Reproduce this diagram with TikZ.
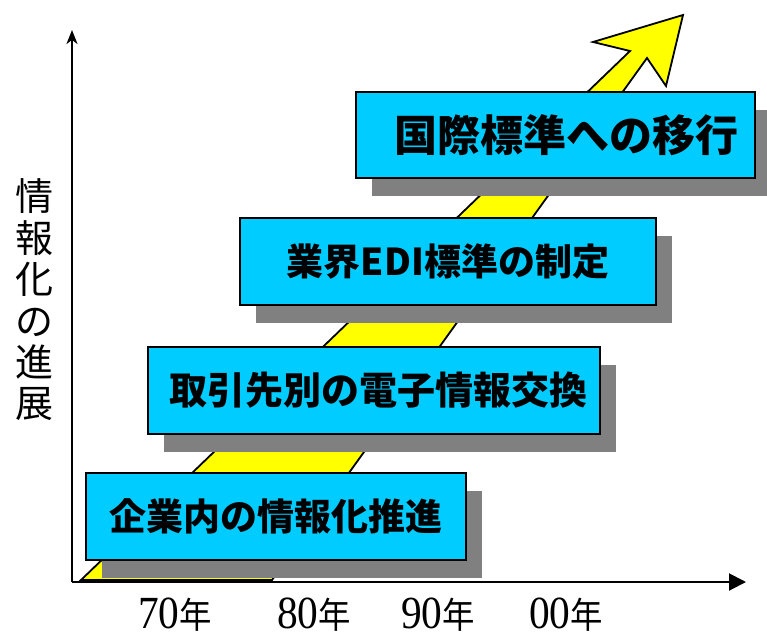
\documentclass[tikz,border=0pt]{standalone}
\usepackage{fontspec}
\setmainfont{Liberation Serif}
\newfontfamily\jp{Noto Sans CJK JP}
\usetikzlibrary{arrows.meta,shadows}
\definecolor{boxcyan}{HTML}{00CCFF}
\definecolor{shadowgray}{HTML}{808080}
\definecolor{arrowyellow}{HTML}{FFFF00}
\begin{document}
\begin{tikzpicture}[x=1pt,y=-1pt,
  stagebox/.style={draw=black, line width=2.2pt, fill=boxcyan, inner sep=0pt,
    general shadow={fill=shadowgray, shadow xshift=16pt, shadow yshift=-18pt}},
  axisline/.style={line width=2pt, black},
  yearlabel/.style={anchor=base, inner sep=0pt},
  bigarrow/.style={fill=arrowyellow, draw=black, line width=1.8pt, line join=miter}]
\useasboundingbox (0,0) rectangle (767,638);
% progress arrow
\draw[bigarrow] (81,580) -- (272,580) -- (647,58) -- (666,86) -- (683,15)
  -- (593,42) -- (630,51) -- cycle;
% axes
\coordinate (O) at (72,582);
\coordinate (ytip) at (72,30);
\coordinate (xtip) at (746,582);
\draw[axisline, -{Stealth[length=14pt,width=11pt,inset=4pt]}] (O) -- (ytip);
\draw[axisline, -{Triangle[length=17pt,width=17pt]}] (O) -- (xtip);
% boxes
\node[stagebox, minimum width=399pt, minimum height=86pt] (b1) at (555.5,135)
  {\jp\bfseries\fontsize{43}{43}\selectfont\hspace*{22pt}国際標準への移行};
\node[stagebox, minimum width=416pt, minimum height=87pt] (b2) at (448,261.5)
  {\jp\bfseries\fontsize{37}{37}\selectfont 業界EDI標準の制定};
\node[stagebox, minimum width=452pt, minimum height=87pt] (b3) at (374,390.5)
  {\jp\bfseries\fontsize{38}{38}\selectfont\hspace*{8pt}取引先別の電子情報交換};
\node[stagebox, minimum width=380pt, minimum height=87pt] (b4) at (276,516.5)
  {\jp\bfseries\fontsize{37}{37}\selectfont 企業内の情報化推進};
% vertical axis label
\node[inner sep=0pt, align=center, font={\jp\fontsize{38}{41.4}\selectfont}] (ylab) at (34,300)
  {情\\報\\化\\の\\進\\展};
% year labels
\node[yearlabel] (y70) at (175,628) {\scalebox{0.9}[1]{\fontsize{46}{46}\selectfont 70\jp\fontsize{36}{36}\selectfont 年}};
\node[yearlabel] (y80) at (314,628) {\scalebox{0.9}[1]{\fontsize{46}{46}\selectfont 80\jp\fontsize{36}{36}\selectfont 年}};
\node[yearlabel] (y90) at (438,628) {\scalebox{0.9}[1]{\fontsize{46}{46}\selectfont 90\jp\fontsize{36}{36}\selectfont 年}};
\node[yearlabel] (y00) at (566,628) {\scalebox{0.9}[1]{\fontsize{46}{46}\selectfont 00\jp\fontsize{36}{36}\selectfont 年}};
\end{tikzpicture}
\end{document}
